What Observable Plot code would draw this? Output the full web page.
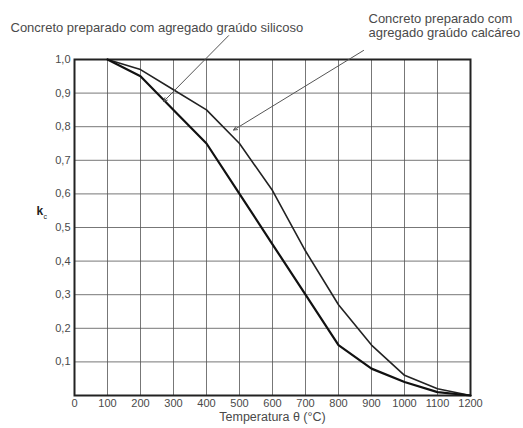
<!DOCTYPE html>
<html>
<head>
<meta charset="utf-8">
<script src="https://cdn.jsdelivr.net/npm/d3@7"></script>
<script src="https://cdn.jsdelivr.net/npm/@observablehq/plot@0.6"></script>
<style>
  html, body { margin: 0; padding: 0; background: #fff; }
  #chart svg { display: block; }
</style>
</head>
<body>
<div id="chart"></div>
<script>
const temperatures = [100, 200, 300, 400, 500, 600, 700, 800, 900, 1000, 1100, 1200];
const siliceous   = [1.00, 0.95, 0.85, 0.75, 0.60, 0.45, 0.30, 0.15, 0.08, 0.04, 0.01, 0.00];
const calcareous  = [1.00, 0.97, 0.91, 0.85, 0.75, 0.61, 0.43, 0.27, 0.15, 0.06, 0.02, 0.00];
const xTicks = [0, 100, 200, 300, 400, 500, 600, 700, 800, 900, 1000, 1100, 1200];
const yTicks = [0.1, 0.2, 0.3, 0.4, 0.5, 0.6, 0.7, 0.8, 0.9, 1.0];
const titleLeft = "Concreto preparado com agregado graúdo silicoso";
const titleRight = "Concreto preparado com\nagregado graúdo calcáreo";
const xLabel = "Temperatura θ (°C)";
// leader lines: [x1, y1, x2(tip), y2(tip)]
const leaderSil = [467, 1.071, 270, 0.875];
const leaderCal = [876, 1.027, 482, 0.79];

const silData = temperatures.map((t, i) => ({t, k: siliceous[i]}));
const calData = temperatures.map((t, i) => ({t, k: calcareous[i]}));
const leaders = [leaderSil, leaderCal].map(([x1, y1, x2, y2]) => ({x1, y1, x2, y2}));
const fmt = d => d.toFixed(1).replace(".", ",");
const txt = "#4a4a4a";
const font = "Liberation Sans, Arial, sans-serif";

const chart = Plot.plot({
  width: 523,
  height: 428,
  marginLeft: 74,
  marginRight: 53,
  marginTop: 59,
  marginBottom: 33,
  style: {fontFamily: font, fontSize: "10px", color: txt, background: "#fff"},
  x: {domain: [0, 1200], ticks: xTicks, tickSize: 0, label: null},
  y: {domain: [0, 1], ticks: yTicks, tickSize: 0, tickFormat: fmt, label: null},
  marks: [
    Plot.gridX(xTicks, {stroke: "#555", strokeOpacity: 0.8, strokeWidth: 1}),
    Plot.gridY(yTicks, {stroke: "#555", strokeOpacity: 0.8, strokeWidth: 1}),
    Plot.axisX({ticks: xTicks, tickSize: 0, tickPadding: 4, tickFormat: d => String(d), fill: txt, fontSize: 11}),
    Plot.axisY({ticks: yTicks, tickSize: 0, tickPadding: 4, tickFormat: fmt, fill: txt, fontSize: 11}),
    Plot.frame({stroke: "#222", strokeWidth: 2}),
    Plot.line(calData, {x: "t", y: "k", stroke: "#222", strokeWidth: 1.6}),
    Plot.line(silData, {x: "t", y: "k", stroke: "#111", strokeWidth: 2.2}),
    Plot.arrow(leaders, {x1: "x1", y1: "y1", x2: "x2", y2: "y2", stroke: "#555", strokeWidth: 1, headLength: 6, headAngle: 50}),
    Plot.text([titleLeft], {frameAnchor: "top-left", dx: -64, dy: -37, textAnchor: "start", fill: txt, fontSize: 13}),
    Plot.text([titleRight], {frameAnchor: "top-right", dx: -102, dy: -34, textAnchor: "start", lineAnchor: "middle", lineHeight: 1.05, fill: txt, fontSize: 13}),
    Plot.text([xLabel], {frameAnchor: "bottom", dy: 25, fill: txt, fontSize: 12.5}),
    Plot.text(["k"], {frameAnchor: "left", dx: -38, dy: -16, fill: "#222", fontSize: 12, fontWeight: "bold"}),
    Plot.text(["c"], {frameAnchor: "left", dx: -31, dy: -11, fill: "#222", fontSize: 7})
  ]
});
document.getElementById("chart").appendChild(chart);
</script>
</body>
</html>
